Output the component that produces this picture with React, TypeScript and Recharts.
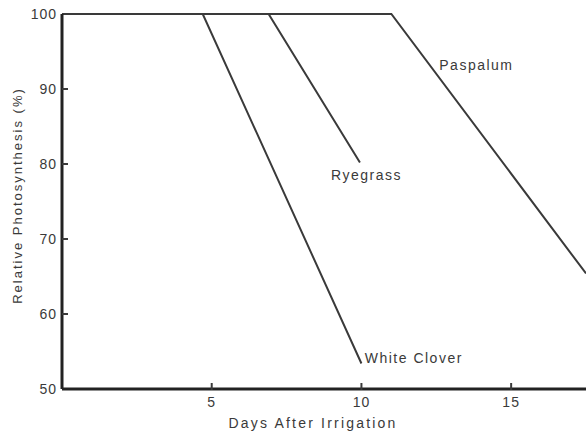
import React from 'react';
import { LineChart, Line, XAxis, YAxis, ReferenceDot } from 'recharts';

const whiteCloverDays = [0, 4.7, 10.0];
const whiteCloverValues = [100, 100, 53.4];
const ryegrassDays = [0, 6.9, 9.95];
const ryegrassValues = [100, 100, 80.2];
const paspalumDays = [0, 11.0, 17.5];
const paspalumValues = [100, 100, 65.4];

const xTicks = [5, 10, 15];
const yTicks = [50, 60, 70, 80, 90, 100];

const seriesLabels = [
  { name: 'Paspalum', day: 12.6, value: 93.2 },
  { name: 'Ryegrass', day: 8.98, value: 78.5 },
  { name: 'White Clover', day: 10.11, value: 54.1 },
];

const toRows = (days: number[], values: number[]) =>
  days.map((d, i) => ({ day: d, value: values[i] }));

const FONT = '"Liberation Sans", Arial, sans-serif';
const TEXT = '#3a3a3a';
const LINE = '#3a3a3a';

const YTick = (props: any) => {
  const { x, y, payload } = props;
  const v = payload.value;
  return (
    <g>
      {v !== 50 && v !== 100 && (
        <line x1={x + 5} x2={x + 11} y1={y} y2={y} stroke={LINE} strokeWidth={2} />
      )}
      <text x={x} y={y} dy="0.35em" textAnchor="end" fontFamily={FONT} fontSize={14} letterSpacing={1} fill={TEXT}>
        {v}
      </text>
    </g>
  );
};

const XTick = (props: any) => {
  const { x, y, payload } = props;
  return (
    <g>
      <line x1={x} x2={x} y1={y - 14} y2={y - 7} stroke={LINE} strokeWidth={2} />
      <text x={x} y={y} dy="0.71em" textAnchor="middle" fontFamily={FONT} fontSize={14} letterSpacing={1} fill={TEXT}>
        {payload.value}
      </text>
    </g>
  );
};

export default function App() {
  return (
    <div style={{ position: 'absolute', left: 0, top: 0, background: '#fff' }}>
      <LineChart width={586} height={434} margin={{ top: 14, right: 0, bottom: 0, left: 0 }}>
        <XAxis
          type="number"
          dataKey="day"
          domain={[0, 17.5]}
          ticks={xTicks}
          tickSize={0}
          tickMargin={8}
          tick={<XTick />}
          height={45}
          axisLine={{ stroke: '#222', strokeWidth: 3 }}
          allowDuplicatedCategory={false}
          label={{
            content: (p: any) => {
              const vb = p.viewBox;
              return (
                <text x={vb.x + vb.width / 2 - 11} y={428} textAnchor="middle" fontFamily={FONT} fontSize={14} letterSpacing={2.2} fill={TEXT}>
                  Days After Irrigation
                </text>
              );
            },
          }}
        />
        <YAxis
          type="number"
          domain={[50, 100]}
          ticks={yTicks}
          tickSize={0}
          tickMargin={5}
          tick={<YTick />}
          width={62}
          axisLine={{ stroke: '#222', strokeWidth: 3 }}
          label={{
            content: (p: any) => {
              const vb = p.viewBox;
              const cy = vb.y + vb.height / 2 - 6;
              return (
                <text x={17} y={cy} transform={`rotate(-90, 17, ${cy})`} dy="0.35em" textAnchor="middle" fontFamily={FONT} fontSize={13} letterSpacing={2} fill={TEXT}>
                  Relative Photosynthesis (%)
                </text>
              );
            },
          }}
        />
        <Line data={toRows(whiteCloverDays, whiteCloverValues)} dataKey="value" type="linear" stroke={LINE} strokeWidth={2} dot={false} isAnimationActive={false} />
        <Line data={toRows(ryegrassDays, ryegrassValues)} dataKey="value" type="linear" stroke={LINE} strokeWidth={2} dot={false} isAnimationActive={false} />
        <Line data={toRows(paspalumDays, paspalumValues)} dataKey="value" type="linear" stroke={LINE} strokeWidth={2} dot={false} isAnimationActive={false} />
        {seriesLabels.map((s) => (
          <ReferenceDot
            key={s.name}
            x={s.day}
            y={s.value}
            r={0}
            fill="none"
            stroke="none"
            label={{
              content: (p: any) => {
                const vb = p.viewBox;
                return (
                  <text x={vb.x} y={vb.y + vb.height / 2} dy="0.35em" textAnchor="start" fontFamily={FONT} fontSize={14} letterSpacing={1.5} fill={TEXT}>
                    {s.name}
                  </text>
                );
              },
            }}
          />
        ))}
      </LineChart>
    </div>
  );
}
